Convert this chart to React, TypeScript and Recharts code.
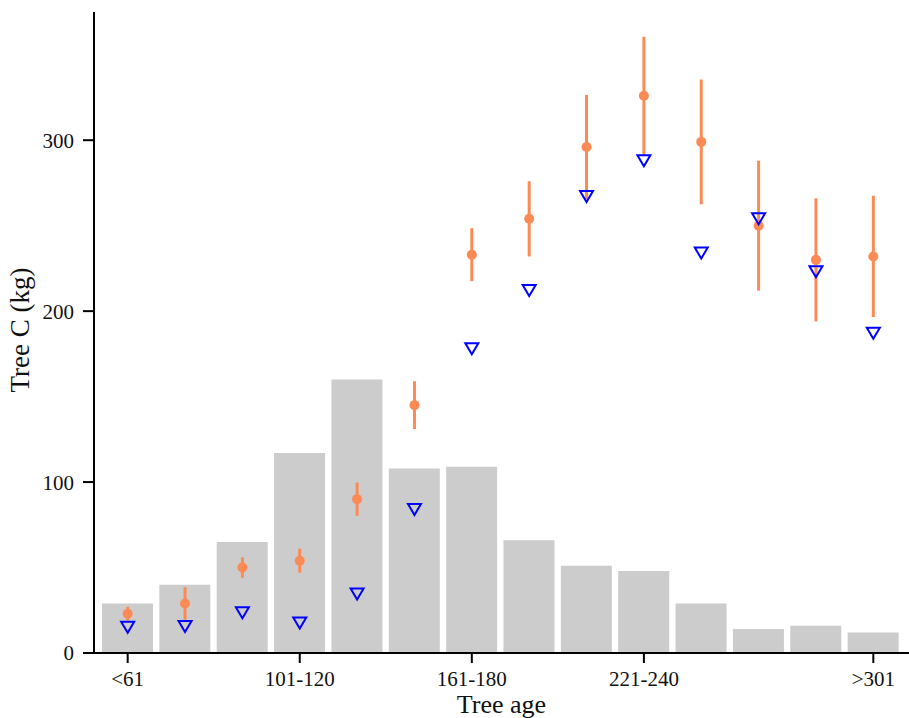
import { Bar, ComposedChart, ErrorBar, Label, Line, XAxis, YAxis } from 'recharts'

const AGE_CLASSES = ['<61', '61-80', '81-100', '101-120', '121-140', '141-160', '161-180', '181-200', '201-220', '221-240', '241-260', '261-280', '281-300', '>301']
const TREE_COUNT = [29, 40, 65, 117, 160, 108, 109, 66, 51, 48, 29, 14, 16, 12]
const MEAN_C = [23, 29, 50, 54, 90, 145, 233, 254, 296, 326, 299, 250, 230, 232]
const SE_C = [4, 9.5, 6, 7, 9.7, 14, 15.5, 22, 30.5, 34.5, 36.5, 38, 36, 35.5]
const PRED_C = [15, 15.5, 23.5, 17.5, 34.5, 84, 178, 212, 267, 288, 234, 254, 223, 187]
const SHOWN_TICKS = ['<61', '101-120', '161-180', '221-240', '>301']
const Y_TICKS = [0, 100, 200, 300]

const ORANGE = '#fb8a55'
const BLUE = '#0000ff'
const FONT = '"Liberation Serif", "Times New Roman", serif'

const data = AGE_CLASSES.map((age, i) => ({
  age,
  count: TREE_COUNT[i],
  mean: MEAN_C[i],
  err: SE_C[i],
  pred: PRED_C[i],
}))

function AgeTick(props: any) {
  const { x, y, payload } = props
  if (!SHOWN_TICKS.includes(payload.value)) return <g />
  return (
    <g>
      <line x1={x} x2={x} y1={y - 18} y2={y - 8} stroke="#000" strokeWidth={2} />
      <text x={x} y={y} dy="0.71em" textAnchor="middle" fill="#111" fontSize={21} fontFamily={FONT}>
        {payload.value}
      </text>
    </g>
  )
}

function Triangle(props: any) {
  const { cx, cy, index } = props
  if (cx == null || cy == null) return <g key={index} />
  return (
    <path
      key={index}
      d={`M${cx - 6.5},${cy - 5.5}L${cx + 6.5},${cy - 5.5}L${cx},${cy + 5.5}Z`}
      fill="none"
      stroke={BLUE}
      strokeWidth={2}
    />
  )
}

export default function App() {
  return (
    <div style={{ position: 'absolute', left: 0, top: 0, width: 909, height: 718, background: '#fff' }}>
      <ComposedChart
        width={909}
        height={718}
        data={data}
        barCategoryGap={3}
        margin={{ top: 12, right: 0, left: 0, bottom: 0 }}
        style={{ fontFamily: FONT }}
      >
        <XAxis
          dataKey="age"
          height={65}
          interval={0}
          padding={{ left: 5, right: 7 }}
          axisLine={{ stroke: '#000', strokeWidth: 2 }}
          tickLine={false}
          tickSize={10}
          tickMargin={8}
          tick={<AgeTick />}
        >
          <Label value="Tree age" position="insideBottom" offset={5} fill="#111" fontSize={26} />
        </XAxis>
        <YAxis
          width={94}
          domain={[0, 375]}
          ticks={Y_TICKS}
          axisLine={{ stroke: '#000', strokeWidth: 2 }}
          tickLine={{ stroke: '#000', strokeWidth: 2 }}
          tickSize={11}
          tickMargin={9}
          tick={{ fill: '#111', fontSize: 21, fontFamily: FONT }}
        >
          <Label
            content={() => (
              <text
                x={29}
                y={330}
                transform="rotate(-90 29 330)"
                textAnchor="middle"
                fill="#111"
                fontSize={27}
                fontFamily={FONT}
              >
                Tree C (kg)
              </text>
            )}
          />
        </YAxis>
        <Bar dataKey="count" fill="#cccccc" isAnimationActive={false} />
        <Line
          dataKey="mean"
          stroke="none"
          dot={{ r: 5, fill: ORANGE, stroke: 'none' }}
          activeDot={false}
          isAnimationActive={false}
        >
          <ErrorBar dataKey="err" width={0} stroke={ORANGE} strokeWidth={3} direction="y" />
        </Line>
        <Line dataKey="pred" stroke="none" dot={Triangle} activeDot={false} isAnimationActive={false} />
      </ComposedChart>
    </div>
  )
}
